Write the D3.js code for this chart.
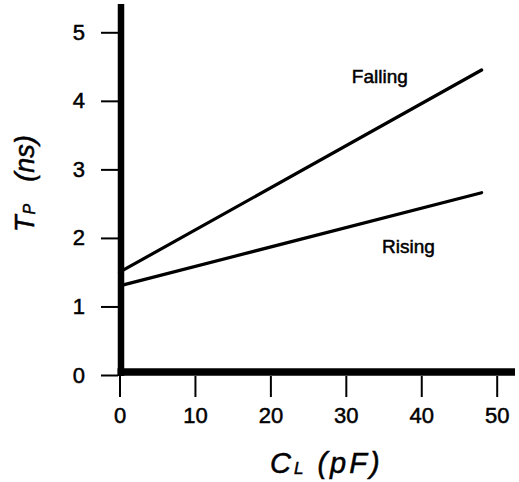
<!DOCTYPE html>
<html>
<head>
<meta charset="utf-8">
<script src="https://cdn.jsdelivr.net/npm/d3@7/dist/d3.min.js"></script>
<style>
  html, body { margin: 0; padding: 0; background: #fff; }
  svg { display: block; }
  text { font-family: "Liberation Sans", Arial, Helvetica, sans-serif; fill: #000; stroke: #000; stroke-width: 0.5px; }
</style>
</head>
<body>
<svg id="chart" width="519" height="482"></svg>
<script>
// Propagation delay versus load capacitance
const loadCap = [0, 48];                 // C_L in pF
const fallingDelay = [1.5, 4.45];        // T_P in ns, falling transition
const risingDelay = [1.3, 2.66];         // T_P in ns, rising transition
const xTicks = [0, 10, 20, 30, 40, 50];
const yTicks = [0, 1, 2, 3, 4, 5];
const seriesNames = ["Falling", "Rising"];

const svg = d3.select("#chart");

const x = d3.scaleLinear().domain([0, 50]).range([119.5, 496.7]);
const y = d3.scaleLinear().domain([0, 5]).range([375, 32.3]);

// Ticks and tick labels
const yAxis = svg.append("g")
  .attr("transform", "translate(118,0)")
  .call(d3.axisLeft(y).tickValues(yTicks).tickSize(17).tickPadding(16).tickFormat(d3.format("d")));
const xAxis = svg.append("g")
  .attr("transform", "translate(0,376)")
  .call(d3.axisBottom(x).tickValues(xTicks).tickSize(21).tickPadding(10).tickFormat(d3.format("d")));

[yAxis, xAxis].forEach(g => {
  g.select(".domain").remove();
  g.selectAll(".tick line").attr("stroke", "#000").attr("stroke-width", 2);
  g.selectAll(".tick text").style("font-size", "22px").attr("fill", "#000");
});

// Heavy axis lines
svg.append("line")
  .attr("x1", x(0) + 1.5).attr("x2", x(0) + 1.5)
  .attr("y1", 4).attr("y2", y(0) + 1)
  .attr("stroke", "#000").attr("stroke-width", 6.5);
svg.append("line")
  .attr("x1", x(0) - 2).attr("x2", 515)
  .attr("y1", y(0) - 3).attr("y2", y(0) - 3)
  .attr("stroke", "#000").attr("stroke-width", 7.5);

// Delay lines
const line = d3.line().x(d => x(d[0])).y(d => y(d[1]));
[fallingDelay, risingDelay].forEach(vals => {
  svg.append("path")
    .datum(loadCap.map((c, i) => [c, vals[i]]))
    .attr("d", line)
    .attr("fill", "none")
    .attr("stroke", "#000")
    .attr("stroke-width", 3.2)
    .attr("stroke-linecap", "round");
});

// Series labels
const labelAt = [[30.8, 4.26], [34.8, 1.78]];
seriesNames.forEach((name, i) => {
  svg.append("text")
    .attr("x", x(labelAt[i][0]))
    .attr("y", y(labelAt[i][1]))
    .style("font-size", "19px")
    .text(name);
});

// Axis titles
const xt = svg.append("text")
  .attr("x", 270).attr("y", 473)
  .style("font-size", "29px").style("font-style", "italic");
xt.append("tspan").text("C");
xt.append("tspan").attr("dy", 1).attr("dx", 3).style("font-size", "17px").text("L");
xt.append("tspan").attr("dy", -1).attr("dx", 14).style("letter-spacing", "3px").text("(pF)");

const yt = svg.append("text")
  .attr("transform", "translate(34,232) rotate(-90)")
  .style("font-size", "27px").style("font-style", "italic");
yt.append("tspan").text("T");
yt.append("tspan").attr("dy", 1).attr("dx", 1).style("font-size", "16px").text("P");
yt.append("tspan").attr("dy", -1).attr("dx", 22).text("(ns)");
</script>
</body>
</html>
